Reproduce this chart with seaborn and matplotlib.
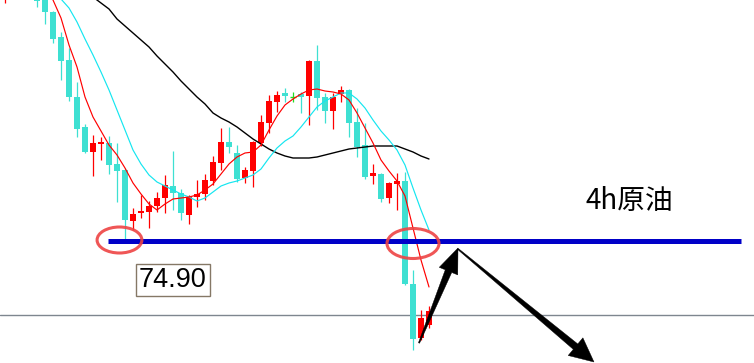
import numpy as np
import pandas as pd
import matplotlib
matplotlib.use("Agg")
import matplotlib.pyplot as plt
import seaborn as sns
from matplotlib.patches import Ellipse, Polygon, Rectangle

# ---------------- data (4h crude oil candles) ----------------
opens = [79.92, 80.22, 80.02, 80.24, 79.78, 79.80, 79.48, 78.98, 78.52, 77.78,
         77.18, 76.68, 76.84, 76.86, 76.44, 76.32, 75.30, 75.46, 75.48, 75.60,
         75.76, 76.00, 75.86, 75.42, 75.78, 75.84, 76.10, 76.46, 76.88, 76.66,
         76.16, 76.30, 76.86, 77.26, 77.68, 77.86, 77.78, 77.84, 77.80, 78.50,
         77.78, 77.50, 77.84, 77.92, 77.28, 76.82, 76.20, 76.24, 75.76, 76.04,
         76.10, 74.04, 72.96, 73.22]
highs = [80.52, 80.42, 80.38, 80.32, 79.88, 79.88, 79.50, 79.08, 78.76, 78.08,
         77.24, 77.02, 76.98, 77.00, 76.86, 76.36, 75.56, 75.82, 75.70, 75.88,
         76.22, 76.70, 75.94, 75.82, 76.12, 76.24, 76.60, 77.16, 77.18, 76.82,
         76.38, 76.90, 77.42, 77.82, 77.90, 77.96, 77.88, 77.88, 78.52, 78.82,
         77.86, 77.86, 78.00, 77.94, 77.56, 77.26, 76.44, 76.26, 76.08, 76.26,
         76.28, 74.32, 73.52, 73.60]
lows = [79.66, 79.82, 79.88, 79.80, 79.58, 79.24, 78.86, 78.12, 77.70, 76.98,
        76.66, 76.20, 76.52, 76.24, 75.68, 74.92, 75.12, 75.36, 75.16, 75.48,
        75.46, 75.52, 75.32, 75.24, 75.58, 75.72, 76.02, 76.32, 76.66, 76.08,
        76.06, 75.98, 76.80, 77.06, 77.48, 77.68, 77.68, 77.46, 77.22, 77.52,
        77.26, 77.14, 77.68, 76.98, 76.58, 76.14, 76.04, 75.68, 75.66, 75.52,
        74.02, 72.72, 72.92, 73.16]
closes = [80.32, 80.02, 80.28, 79.92, 79.70, 79.48, 78.94, 78.50, 77.78, 77.14,
          76.68, 76.86, 76.88, 76.42, 76.30, 75.32, 75.44, 75.50, 75.60, 75.76,
          76.02, 75.86, 75.46, 75.78, 75.84, 76.12, 76.48, 76.88, 76.78, 76.14,
          76.32, 76.88, 77.28, 77.70, 77.82, 77.80, 77.78, 77.78, 78.50, 77.76,
          77.50, 77.78, 77.92, 77.26, 76.78, 76.18, 76.26, 75.74, 76.06, 76.10,
          74.04, 72.94, 73.36, 73.50]

nan = np.nan
ma_fast = [nan, nan, nan, nan, 80.42, 80.06, 79.72, 79.36, 78.82, 78.38,
           77.78, 77.38, 77.10, 76.82, 76.62, 76.36, 76.06, 75.84, 75.64, 75.52,
           75.64, 75.74, 75.76, 75.78, 75.82, 75.92, 76.04, 76.24, 76.44, 76.58,
           76.66, 76.68, 76.82, 77.12, 77.40, 77.62, 77.74, 77.84, 77.92, 77.94,
           77.90, 77.88, 77.84, 77.72, 77.46, 77.16, 76.86, 76.52, 76.30, 76.10,
           75.80, 75.16, 74.52, 73.98]
ma_mid = [nan, nan, nan, nan, nan, 80.32, 80.02, 79.74, 79.56, 79.28,
          78.94, 78.62, 78.28, 77.92, 77.52, 77.12, 76.72, 76.44, 76.22, 76.08,
          76.00, 75.92, 75.84, 75.78, 75.70, 75.76, 75.88, 76.00, 76.06, 76.10,
          76.16, 76.22, 76.34, 76.56, 76.76, 76.90, 77.00, 77.18, 77.38, 77.58,
          77.70, 77.78, 77.86, 77.86, 77.74, 77.56, 77.32, 77.10, 76.92, 76.72,
          76.42, 75.96, 75.52, 75.12]
ma_slow = [nan, nan, nan, nan, nan, nan, nan, nan, nan, 80.06,
           79.92, 79.78, 79.66, 79.54, 79.34, 79.20, 79.06, 78.92, 78.78, 78.60,
           78.44, 78.28, 78.10, 77.94, 77.78, 77.64, 77.46, 77.36, 77.28, 77.18,
           77.06, 76.94, 76.84, 76.74, 76.66, 76.60, 76.56, 76.56, 76.56, 76.58,
           76.62, 76.66, 76.70, 76.74, 76.76, 76.78, 76.80, 76.80, 76.80, 76.80,
           76.74, 76.68, 76.60, 76.54]

support_level = 74.90
support_label = "74.90"
grey_level = 73.42
title_text = "4h原油"

# ---------------- figure ----------------
sns.set_theme(style="white")
plt.rcParams['font.family'] = ['Noto Sans CJK SC', 'DejaVu Sans']

fig = plt.figure(figsize=(7.54, 3.63), dpi=100)
ax = fig.add_axes([0, 0, 1, 1])
ax.set_xlim(-0.625, 93.625)
ax.set_ylim(72.46, 79.72)
ax.axis('off')

df = pd.DataFrame({"i": np.arange(len(opens)), "open": opens, "high": highs,
                   "low": lows, "close": closes,
                   "fast": ma_fast, "mid": ma_mid, "slow": ma_slow})

UP = "#FF0000"
DOWN = "#3EE0D2"
FLAT = "#22DD22"
cols = np.where(df.close > df.open, UP, np.where(df.close < df.open, DOWN, FLAT))

# grey horizontal line
ax.axhline(grey_level, color="#7E868F", lw=1.0, zorder=1)

# wicks
ax.vlines(df.i, df.low, df.high, colors=cols, lw=0.9, zorder=2)
# bodies
body_bottom = np.minimum(df.open, df.close)
body_h = np.maximum(np.abs(df.close - df.open), 0.025)
flat = df.close == df.open
ax.bar(df.i[~flat], body_h[~flat], bottom=body_bottom[~flat], width=0.7,
       color=cols[~flat], linewidth=0, zorder=3)
ax.hlines(df.close[flat], df.i[flat] - 0.35, df.i[flat] + 0.35, colors=FLAT,
          lw=1.0, zorder=3)

# moving averages
for col, c, lw in [("slow", "#000000", 1.0), ("mid", "#14E6F0", 0.85), ("fast", "#FF0000", 0.85)]:
    sub = df[["i", col]].dropna()
    sns.lineplot(data=sub, x="i", y=col, ax=ax, color=c, lw=lw,
                 estimator=None, sort=False, legend=False, zorder=4)
ax.set_xlim(-0.625, 93.625)
ax.set_ylim(72.46, 79.72)
ax.axis('off')

# support line
ax.hlines(support_level, 12.875, 92.0, color="#0000C8", lw=3.6, zorder=5)

# red ellipses
for (cx, cy, w, h) in [(14.31, 74.92, 5.6, 0.52), (51.0, 74.85, 6.5, 0.60)]:
    ax.add_patch(Ellipse((cx, cy), w, h, fill=False, edgecolor="#EE4444",
                         lw=2.2, alpha=0.9, zorder=6))

# price label
ax.text(21.0, 73.98, support_label, fontsize=19.5, family=['Liberation Sans', 'DejaVu Sans'],
        color="black", ha="center", va="baseline", zorder=7,
        bbox=dict(boxstyle="square,pad=0.12", fc="white", ec="#857866", lw=1.0))

# title text
ax.text(78.06, 75.69, title_text, fontsize=20, color="black",
        ha="center", va="center", zorder=7,
        family=['Noto Sans CJK SC', 'DejaVu Sans'])

# tapered arrows
def tapered_arrow(tail, tip, shaft_w, head_w, head_len):
    T = ax.transData
    p0 = np.array(T.transform(tail))
    p1 = np.array(T.transform(tip))
    d = p1 - p0
    u = d / np.hypot(*d)
    n = np.array([-u[1], u[0]])
    base = p1 - u * head_len
    pts = [p0 + n * 0.6, base + n * shaft_w / 2, base + n * head_w / 2, p1,
           base - n * head_w / 2, base - n * shaft_w / 2, p0 - n * 0.6]
    ax.add_patch(Polygon(T.inverted().transform(pts), closed=True,
                         facecolor="black", edgecolor="black", lw=0.3, zorder=8))

tapered_arrow((51.75, 72.86), (56.625, 74.76), 7, 20, 25)
tapered_arrow((56.625, 74.74), (73.625, 72.48), 7, 23, 24)

fig.savefig("out.png", dpi=100, facecolor="white")
